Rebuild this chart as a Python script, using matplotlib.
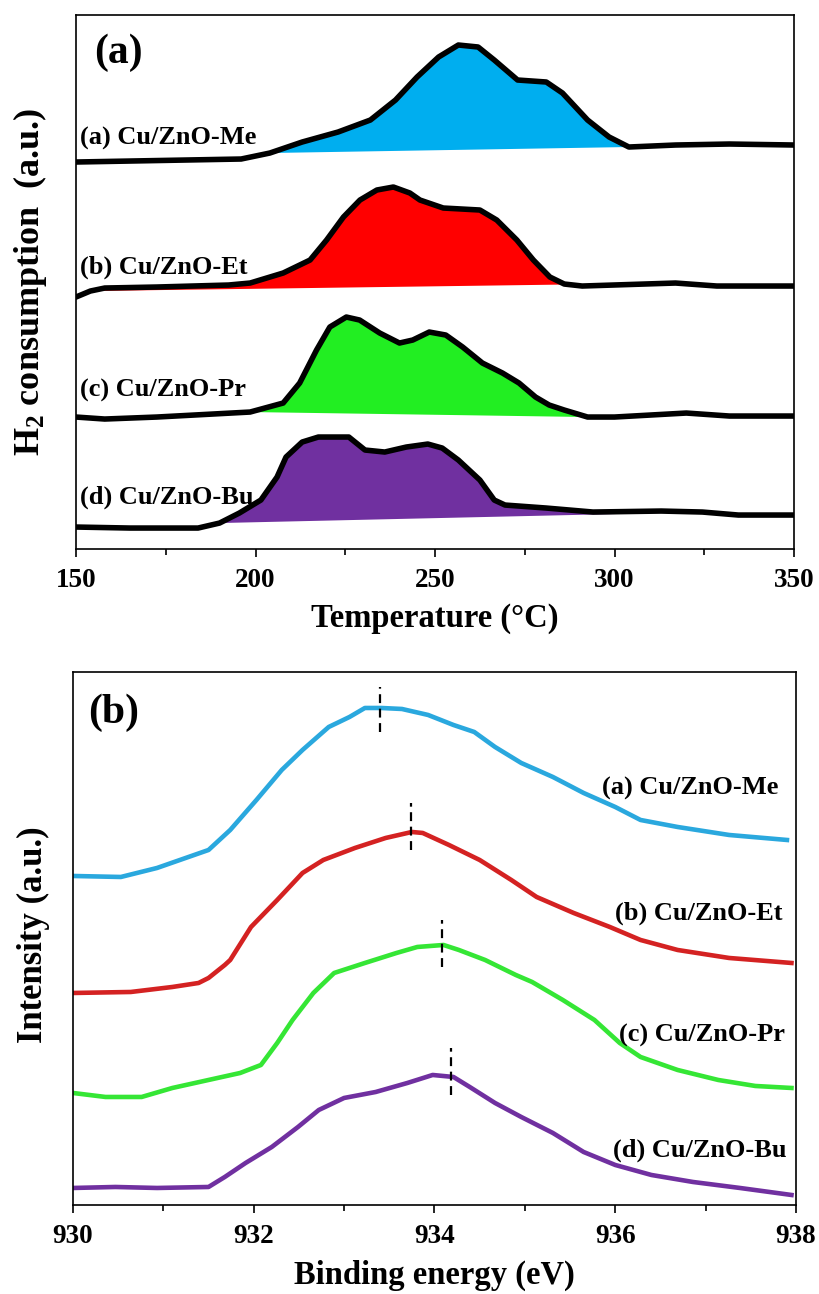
import numpy as np
import matplotlib
matplotlib.use("Agg")
import matplotlib.pyplot as plt
from matplotlib.ticker import MultipleLocator

# ---------------- data ----------------
# (a) H2-TPR, temperature in degC, signal in a.u. (stacked, offsets included)
T_me = [150, 196, 204, 213, 223, 232, 239, 245, 251, 256.5, 262, 266.5, 273, 281,
        285.5, 292.5, 298.5, 304, 317, 332, 350]
s_me = [387, 390, 396, 407, 417, 429, 449, 472, 492, 504, 502, 489, 469, 467,
        456, 429, 412, 402, 404, 405, 404]

T_et = [150, 154, 158, 172.5, 192.5, 198.5, 207.7, 215.2, 219.8, 224.5, 229.1, 233.8,
        238.4, 243, 245.8, 252.3, 262.5, 267.2, 272.8, 277.4, 282, 286, 291, 317,
        328.5, 350]
s_et = [252, 258, 261, 262, 264, 266, 276, 289, 309, 332, 349, 359,
        362, 356, 349, 341, 339, 329, 309, 289, 272, 265, 263, 266,
        263, 263]

T_pr = [150, 158, 172.5, 198.5, 207.7, 212.3, 217, 220.7, 225.3, 229, 234.6, 240.1,
        243.8, 248.4, 253, 257.7, 263.2, 268.8, 273.4, 278, 281.8, 286, 292.5, 300,
        310, 320, 332, 350]
s_pr = [132, 130, 132, 137, 146, 166, 199, 222, 232, 229, 216, 206,
        209, 217, 214, 202, 186, 176, 166, 152, 144, 139, 132, 132,
        134, 136, 133, 133]

T_bu = [150, 165, 184, 190, 195.5, 201.5, 206, 208.5, 213, 217.5, 226, 230.5, 236,
        242, 248, 252, 256.5, 262.5, 266.5, 269.5, 281, 294, 313, 324.5, 334.5, 350]
s_bu = [22, 21, 21, 26, 36, 49, 72, 92, 107, 112, 112, 99, 97,
        102, 105, 101, 89, 69, 49, 44, 41, 37, 38, 37, 34, 34]

tpr_names = ["(a) Cu/ZnO-Me", "(b) Cu/ZnO-Et", "(c) Cu/ZnO-Pr", "(d) Cu/ZnO-Bu"]
tpr_fill_range = [(204, 304), (154, 317), (198.5, 292.5), (190, 324.5)]
tpr_label_y = [411, 282, 159, 52]

# (b) XPS Cu 2p3/2, binding energy in eV
E_me = [930.0, 930.53, 930.93, 931.5, 931.74, 932.03, 932.31, 932.54, 932.83, 933.06,
        933.23, 933.41, 933.64, 933.93, 934.21, 934.44, 934.67, 934.96, 935.31, 935.65,
        936.0, 936.28, 936.69, 937.26, 937.9]
i_me = [329, 328, 337, 355, 375, 405, 435, 455, 478, 488,
        497, 497, 496, 490, 480, 473, 458, 442, 428, 412,
        398, 385, 378, 370, 365]

E_et = [930.0, 930.64, 931.1, 931.39, 931.5, 931.68, 931.74, 931.97, 932.26, 932.54,
        932.77, 933.12, 933.46, 933.75, 933.87, 934.16, 934.5, 934.85, 935.13, 935.54,
        935.94, 936.28, 936.69, 937.26, 937.95]
i_et = [212, 213, 218, 222, 227, 240, 245, 278, 305, 332,
        345, 357, 367, 373, 372, 360, 345, 325, 308, 292,
        278, 265, 255, 247, 242]

E_pr = [930.0, 930.36, 930.76, 931.1, 931.5, 931.85, 932.08, 932.26, 932.43, 932.66,
        932.89, 933.23, 933.58, 933.81, 934.1, 934.27, 934.56, 934.9, 935.08, 935.42,
        935.77, 936.05, 936.28, 936.69, 937.14, 937.55, 937.95]
i_pr = [112, 108, 108, 117, 125, 132, 140, 162, 185, 212,
        232, 242, 252, 258, 260, 255, 245, 230, 223, 205,
        185, 162, 148, 135, 125, 119, 117]

E_bu = [930.0, 930.47, 930.93, 931.5, 931.68, 931.91, 932.2, 932.49, 932.72, 933.0,
        933.35, 933.7, 933.98, 934.21, 934.39, 934.67, 934.96, 935.31, 935.65, 936.0,
        936.4, 936.86, 937.38, 937.95]
i_bu = [17, 18, 17, 18, 28, 42, 58, 78, 95, 107,
        113, 122, 130, 128, 118, 102, 88, 72, 53, 40,
        30, 23, 17, 10]

# peak marks (position, lower, upper)
peak_E = [933.4, 933.74, 934.08, 934.18]
peak_lo = [473, 355, 238, 110]
peak_hi = [518, 402, 285, 157]
xps_label_x = [937.80, 937.85, 937.88, 937.90]
xps_label_y = [417, 292, 170, 55]

fill_colors = ["#00AEEF", "#FF0000", "#22EE22", "#7030A0"]
line_colors = ["#2AA8DE", "#D42222", "#35E635", "#7030A0"]

# ---------------- style ----------------
plt.rcParams['font.family'] = ['Liberation Serif', 'DejaVu Serif']
plt.rcParams['font.weight'] = 'bold'
plt.rcParams['mathtext.fontset'] = 'custom'
plt.rcParams['mathtext.rm'] = 'Liberation Serif:bold'
plt.rcParams['mathtext.default'] = 'rm'

fig = plt.figure(figsize=(8.19, 12.94), dpi=100)
ax1 = fig.add_axes([0.0928, 0.5757, 0.8767, 0.4127])
ax2 = fig.add_axes([0.0891, 0.0688, 0.8828, 0.4119])

# ---------------- (a) TPR ----------------
tpr = [(T_me, s_me), (T_et, s_et), (T_pr, s_pr), (T_bu, s_bu)]
for (T, s), col, (lo, hi), name, ly in zip(tpr, fill_colors, tpr_fill_range,
                                          tpr_names, tpr_label_y):
    T = np.array(T, dtype=float)
    s = np.array(s, dtype=float)
    m = (T >= lo) & (T <= hi)
    ax1.fill(T[m], s[m], color=col, lw=0, zorder=1)
    ax1.plot(T, s, color='black', lw=4.0, solid_joinstyle='round',
             solid_capstyle='round', zorder=2)
    ax1.text(151, ly, name, fontsize=19, fontweight='bold', ha='left', va='center')

ax1.text(155, 496, "(a)", fontsize=30, fontweight='bold', ha='left', va='center')
ax1.set_xlim(150, 350)
ax1.set_ylim(0, 534)
ax1.xaxis.set_major_locator(MultipleLocator(50))
ax1.xaxis.set_minor_locator(MultipleLocator(25))
ax1.set_yticks([])
ax1.set_xlabel("Temperature (°C)", fontsize=23.5, fontweight='bold', labelpad=7)
ax1.set_ylabel("H$_2$ consumption  (a.u.)", fontsize=26, fontweight='bold')
ax1.yaxis.set_label_coords(-0.037, 0.5)

# ---------------- (b) XPS ----------------
xps = [(E_me, i_me), (E_et, i_et), (E_pr, i_pr), (E_bu, i_bu)]
for (E, I), col, name, lx, ly in zip(xps, line_colors, tpr_names,
                                     xps_label_x, xps_label_y):
    ax2.plot(E, I, color=col, lw=3.3, solid_joinstyle='round')
    ax2.text(lx, ly, name, fontsize=19, fontweight='bold', ha='right', va='center')

for pe, lo, hi in zip(peak_E, peak_lo, peak_hi):
    ax2.plot([pe, pe], [lo, hi], color='black', lw=1.6, ls=(0, (4, 2.5)))

ax2.text(930.17, 492, "(b)", fontsize=30, fontweight='bold', ha='left', va='center')
ax2.set_xlim(930, 938)
ax2.set_ylim(0, 533)
ax2.xaxis.set_major_locator(MultipleLocator(2))
ax2.xaxis.set_minor_locator(MultipleLocator(1))
ax2.set_yticks([])
ax2.set_xlabel("Binding energy (eV)", fontsize=23.5, fontweight='bold', labelpad=8)
ax2.set_ylabel("Intensity (a.u.)", fontsize=25, fontweight='bold')
ax2.yaxis.set_label_coords(-0.032, 0.507)

for ax in (ax1, ax2):
    for sp in ax.spines.values():
        sp.set_linewidth(1.2)
    ax.tick_params(axis='x', which='major', direction='out', length=5.5, width=1.2,
                   labelsize=19.5, pad=8)
    ax.tick_params(axis='x', which='minor', direction='out', length=4, width=1.2)
    for lab in ax.get_xticklabels():
        lab.set_fontweight('bold')

fig.savefig("out.png", dpi=100)
